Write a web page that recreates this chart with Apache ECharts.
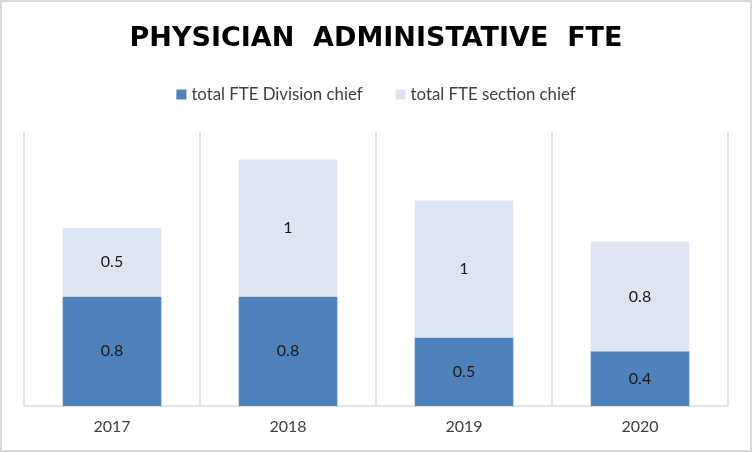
<!DOCTYPE html>
<html>
<head>
<meta charset="utf-8">
<script src="https://cdn.jsdelivr.net/npm/echarts@6/dist/echarts.min.js"></script>
<style>
html,body{margin:0;padding:0;background:#fff;}
#c{width:752px;height:452px;}
</style>
</head>
<body>
<div id="c"></div>
<script>
var categories = ['2017', '2018', '2019', '2020'];
var divisionChief = [0.8, 0.8, 0.5, 0.4];
var sectionChief = [0.5, 1, 1, 0.8];
var seriesNames = ['total FTE Division chief', 'total FTE section chief'];
var titleText = 'PHYSICIAN  ADMINISTATIVE  FTE';

var chart = echarts.init(document.getElementById('c'));
var labelStyle = {
  show: true,
  position: 'inside',
  fontFamily: 'Lato',
  fontSize: 16,
  color: '#1a1a1a'
};
chart.setOption({
  animation: false,
  backgroundColor: '#ffffff',
  graphic: [{
    type: 'rect',
    shape: { x: 1, y: 1, width: 750, height: 450 },
    style: { fill: 'none', stroke: '#d9d9d9', lineWidth: 2 },
    silent: true
  }],
  title: {
    text: titleText,
    left: 'center',
    top: 20,
    textStyle: {
      fontFamily: 'DejaVu Sans',
      fontWeight: 'bold',
      fontSize: 27,
      color: '#000000'
    }
  },
  legend: {
    top: 81,
    left: 'center',
    itemWidth: 10,
    itemHeight: 10,
    itemGap: 33,
    icon: 'rect',
    textStyle: { fontFamily: 'Lato', fontSize: 16.8, color: '#404040' },
    data: seriesNames
  },
  grid: { left: 24, right: 24, top: 132, bottom: 46 },
  xAxis: {
    type: 'category',
    data: categories,
    axisTick: { show: false },
    axisLine: { lineStyle: { color: '#d9d9d9', width: 1.5 } },
    splitLine: { show: true, lineStyle: { color: '#d9d9d9', width: 1.5 } },
    axisLabel: { fontFamily: 'Lato', fontSize: 16, color: '#404040', margin: 13 }
  },
  yAxis: {
    type: 'value',
    min: 0,
    max: 2,
    show: false,
    splitLine: { show: false }
  },
  series: [{
    name: seriesNames[0],
    type: 'bar',
    stack: 'fte',
    barWidth: '56%',
    data: divisionChief,
    itemStyle: { color: '#4f81bd' },
    label: labelStyle
  }, {
    name: seriesNames[1],
    type: 'bar',
    stack: 'fte',
    barWidth: '56%',
    data: sectionChief,
    itemStyle: { color: '#dce6f2' },
    label: labelStyle
  }]
});
</script>
</body>
</html>
